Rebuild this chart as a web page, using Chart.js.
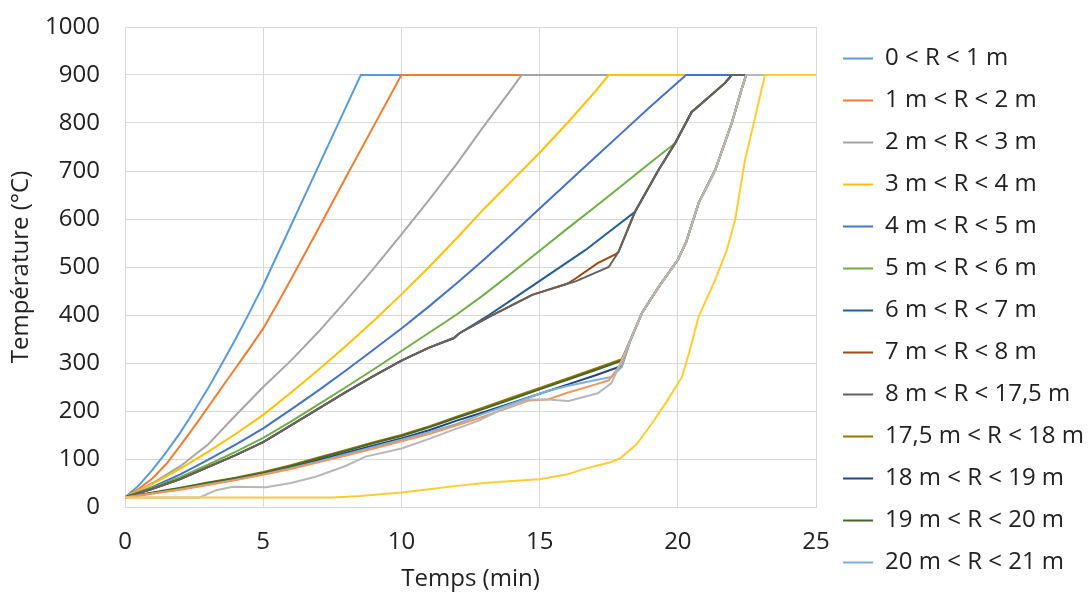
<!DOCTYPE html>
<html lang="fr">
<head>
<meta charset="utf-8">
<title>Température en fonction du temps</title>
<script src="https://cdn.jsdelivr.net/npm/chart.js@4.4.1/dist/chart.umd.min.js"></script>
<style>
  html, body { margin: 0; padding: 0; background: #fff; }
  #wrap { width: 1090px; height: 594px; }
</style>
</head>
<body>
<div id="wrap"><canvas id="chart"></canvas></div>
<script>
// Series names (only the first 13 show in the legend, like the original sheet)
var seriesNames = [
    '0 < R < 1 m', '1 m < R < 2 m', '2 m < R < 3 m', '3 m < R < 4 m',
    '4 m < R < 5 m', '5 m < R < 6 m', '6 m < R < 7 m', '7 m < R < 8 m',
    '8 m < R < 17,5 m', '17,5 m < R < 18 m', '18 m < R < 19 m',
    '19 m < R < 20 m', '20 m < R < 21 m', '21 m < R < 22 m',
    '22 m < R < 23 m', '23 m < R < 24 m'
];

// Time (min) / temperature (°C), one pair per series
var t01 = [0, 0.5, 1, 1.5, 2, 2.5, 3, 3.5, 4, 4.5, 5, 6, 7, 8, 8.53, 25];
var v01 = [20, 45, 78, 115, 155, 200, 247, 298, 350, 405, 462, 586, 710, 834, 900, 900];

var t02 = [0, 0.5, 1, 1.5, 2, 2.7, 3.7, 4.5, 5, 5.59, 6, 7, 8, 9, 10, 25];
var v02 = [20, 38, 60, 90, 128, 183, 265, 330, 372, 431, 474, 580, 688, 794, 900, 900];

var t03 = [0, 1, 2, 3, 3.9, 5, 6, 7, 8, 9, 10, 11, 12, 13, 14, 14.35, 25];
var v03 = [20, 50, 85, 130, 185, 250, 305, 365, 430, 497, 568, 640, 715, 795, 872, 900, 900];

var t04 = [0, 1, 2, 3, 4, 5, 6, 7, 8, 9, 10, 11, 12, 13, 14, 15, 16, 17, 17.5, 25];
var v04 = [20, 48, 80, 115, 152, 192, 238, 286, 336, 388, 443, 500, 560, 622, 680, 738, 800, 865, 900, 900];

var t05 = [0, 1, 2, 3, 4, 5, 6, 7, 8, 9, 10, 11, 12, 13, 14, 15, 16, 17, 18, 19, 20, 20.3, 25];
var v05 = [20, 42, 68, 98, 130, 164, 203, 243, 285, 328, 372, 418, 466, 516, 568, 622, 675, 728, 781, 834, 885, 900, 900];

var t06 = [0, 1, 2, 3, 4, 5, 6, 7, 8, 9, 10, 11, 12, 13, 14, 15, 16, 17, 18, 19, 19.9, 20.5, 20.7, 21.7, 21.95, 25];
var v06 = [20, 40, 62, 88, 115, 144, 178, 214, 250, 287, 325, 363, 401, 443, 488, 534, 580, 625, 671, 717, 758, 823, 833, 883, 900, 900];

var t07 = [0, 1, 2, 3, 4, 5, 6, 7, 8, 9, 10, 11, 11.9, 12.1, 13.17, 14, 16.65, 18.45, 19.3, 19.9, 20.5, 20.7, 21.7, 21.95, 25];
var v07 = [20, 38, 58, 83, 108, 135, 170, 205, 240, 273, 305, 332, 352, 362, 400, 432, 535, 615, 702, 758, 823, 833, 883, 900, 900];

var t08 = [0, 1, 2, 3, 4, 5, 6, 7, 8, 9, 10, 11, 11.9, 12.1, 13.17, 14.73, 16, 16.3, 17.1, 17.7, 17.85, 18.45, 19.3, 19.9, 20.5, 20.7, 21.7, 21.95, 25];
var v08 = [20, 38, 58, 83, 108, 135, 170, 205, 240, 273, 305, 332, 352, 362, 396, 442, 465, 476, 508, 525, 531, 615, 702, 758, 823, 833, 883, 900, 900];

var t09 = [0, 1, 2, 3, 4, 5, 6, 7, 8, 9, 10, 11, 11.9, 12.1, 13.17, 14.73, 16, 16.3, 17.5, 17.85, 18.45, 19.3, 19.9, 20.5, 20.7, 21.7, 21.95, 25];
var v09 = [20, 38, 58, 83, 108, 135, 170, 205, 240, 273, 305, 332, 352, 362, 396, 442, 465, 470, 500, 531, 615, 702, 758, 823, 833, 883, 900, 900];

// shared steep rise of the outer rings after ~18 min
var riseT = [18.3, 18.7, 19.3, 20.0, 20.3, 20.75, 21.35, 21.95, 22.3, 22.47, 25];
var riseV = [350, 404, 458, 515, 552, 633, 702, 800, 869, 900, 900];

var t10 = [0, 1, 2, 3, 4, 5, 6, 7, 8, 9, 10, 11, 12, 13, 14, 15, 16, 17, 17.97];
var v10 = [20, 30, 40, 51, 61, 73, 87, 103, 119, 135, 150, 168, 188, 208, 228, 248, 268, 288, 308];

var t11 = [0, 1, 2, 3, 4, 5, 6, 7, 8, 9, 10, 11, 12, 13, 14, 15, 16, 17, 17.97];
var v11 = [20, 29, 38, 48, 58, 69, 83, 98, 113, 128, 143, 160, 180, 198, 217, 236, 255, 274, 294];

var t12 = [0, 1, 2, 3, 4, 5, 6, 7, 8, 9, 10, 11, 12, 13, 14, 15, 16, 17, 17.97];
var v12 = [20, 29, 39, 50, 60, 71, 85, 101, 117, 133, 148, 166, 186, 205, 225, 245, 265, 285, 305];

var t13 = [0, 1, 2, 3, 4, 5, 6, 7, 8, 9, 10, 11, 12, 12.8, 14, 15.2, 16, 17, 17.6, 17.97];
var v13 = [20, 28, 37, 47, 57, 68, 81, 95, 110, 125, 140, 156, 173, 191, 215, 240, 252, 264, 271, 292];

var t14 = [0, 1, 2, 3, 4, 5, 6, 7, 8, 9, 10, 11, 12, 12.8, 14.6, 15.3, 16, 17, 17.5, 17.97];
var v14 = [20, 28, 36, 46, 56, 67, 79, 93, 107, 122, 137, 152, 170, 185, 222, 224, 238, 255, 264, 300];

var t15 = [0, 2.7, 3.3, 3.9, 5.1, 6, 6.9, 8, 8.7, 10, 11, 11.7, 12.8, 13.5, 14.6, 15.3, 16.05, 17.1, 17.6, 17.97];
var v15 = [20, 20, 35, 42, 41, 50, 63, 86, 105, 122, 142, 157, 180, 200, 224, 224, 221, 237, 258, 306];

var t16 = [0, 7.5, 8.5, 10, 11, 12, 13, 14, 15, 16, 16.65, 17.5, 17.9, 18.5, 19.06, 19.6, 20.15, 20.4, 20.75, 21.35, 21.77, 22.07, 22.43, 22.8, 23.15, 25];
var v16 = [20, 20, 23, 30, 37, 44, 50, 54, 58, 68, 80, 92, 101, 130, 174, 220, 271, 320, 396, 473, 535, 598, 723, 813, 900, 900];

// Excel-like default palette
var colours = [
    '#5b9bd5', '#ed7d31', '#a5a5a5', '#ffc000', '#4472c4', '#70ad47',
    '#255e91', '#9e480e', '#636363', '#997300', '#264478', '#43682b',
    '#7cafdd', '#f1975a', '#b7b7b7', '#ffcd33'
];

var times = [t01, t02, t03, t04, t05, t06, t07, t08, t09,
    t10.concat(riseT), t11.concat(riseT), t12.concat(riseT), t13.concat(riseT),
    t14.concat(riseT), t15.concat(riseT), t16];
var temps = [v01, v02, v03, v04, v05, v06, v07, v08, v09,
    v10.concat(riseV), v11.concat(riseV), v12.concat(riseV), v13.concat(riseV),
    v14.concat(riseV), v15.concat(riseV), v16];

var textColour = '#222222';
var gridColour = '#d9d9d9';

Chart.defaults.font.family = "'Open Sans', sans-serif";
Chart.defaults.font.size = 24;
Chart.defaults.color = textColour;

var datasets = seriesNames.map(function(name, i) {
    return {
        label: name,
        data: times[i].map(function(t, j) { return {x: t, y: temps[i][j]}; }),
        borderColor: colours[i],
        backgroundColor: colours[i],
        borderWidth: 2,
        pointRadius: 0,
        pointHoverRadius: 0,
        tension: 0,
        fill: false,
        // later series drawn on top, as in the spreadsheet
        order: seriesNames.length - i
    };
});

// push the legend column a little to the right of the plot
var legendNudge = {
    id: 'legendNudge',
    afterLayout: function(chart) {
        chart.legend.left += 9;
        chart.legend.right += 9;
    }
};

new Chart(document.getElementById('chart'), {
    type: 'line',
    data: {datasets: datasets},
    plugins: [legendNudge],
    options: {
        responsive: true,
        maintainAspectRatio: false,
        animation: false,
        layout: {padding: {top: 27, right: 5, bottom: 0, left: 0}},
        scales: {
            x: {
                type: 'linear',
                min: 0,
                max: 25,
                ticks: {stepSize: 5, padding: 21, color: textColour},
                grid: {color: gridColour, drawTicks: false},
                border: {color: gridColour},
                title: {display: true, text: 'Temps (min)', color: textColour, padding: {top: 0, bottom: 0}},
                afterFit: function(scale) { scale.height = 87; }
            },
            y: {
                min: 0,
                max: 1000,
                ticks: {
                    stepSize: 100,
                    padding: 25,
                    color: textColour,
                    callback: function(value) { return String(value); }
                },
                grid: {color: gridColour, drawTicks: false},
                border: {color: gridColour},
                title: {display: true, text: 'Température (°C)', color: textColour, padding: {top: 7, bottom: 0}},
                afterFit: function(scale) {
                    scale.width = 125;
                    // labels sit inside the top/bottom margins already
                    scale.paddingTop = 0;
                    scale.paddingBottom = 0;
                }
            }
        },
        plugins: {
            legend: {
                position: 'right',
                align: 'center',
                labels: {
                    usePointStyle: true,
                    pointStyle: 'line',
                    pointStyleWidth: 30,
                    padding: 18,
                    color: textColour,
                    filter: function(item) { return item.datasetIndex < 13; },
                    sort: function(a, b) { return a.datasetIndex - b.datasetIndex; }
                }
            },
            tooltip: {enabled: false}
        }
    }
});
</script>
</body>
</html>
